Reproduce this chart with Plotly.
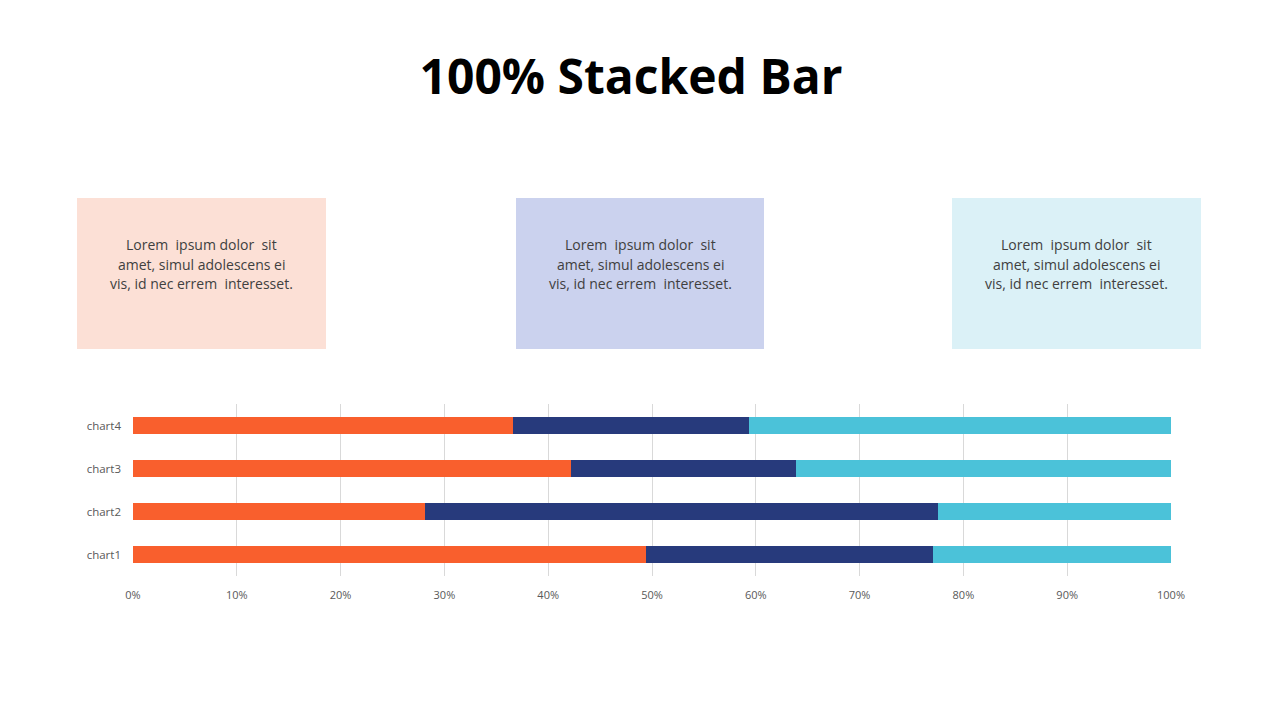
import plotly.graph_objects as go

# data (percent of each row)
categories = ["chart1", "chart2", "chart3", "chart4"]
series_a = [49.4, 28.1, 42.2, 36.6]
series_b = [27.7, 49.5, 21.7, 22.7]
series_c = [22.9, 22.4, 36.1, 40.7]

tick_vals = [0, 10, 20, 30, 40, 50, 60, 70, 80, 90, 100]
tick_text = [f"{v}%" for v in tick_vals]

box_lines = [
    "Lorem  ipsum dolor  sit",
    "amet, simul adolescens ei",
    "vis, id nec errem  interesset.",
]
box_colors = ["#FCE0D6", "#CBD2EE", "#DBF1F7"]
box_x = [(77, 326), (516, 764), (952, 1201)]

series = [
    ("Series 1", series_a, "#F95F2D"),
    ("Series 2", series_b, "#273A7C"),
    ("Series 3", series_c, "#4BC2D9"),
]

fig = go.Figure()
for name, vals, color in series:
    fig.add_trace(
        go.Bar(
            y=categories,
            x=vals,
            name=name,
            orientation="h",
            marker_color=color,
            marker_line_width=0,
            width=0.4,
        )
    )

W, H = 1280, 720
# plot area in screen pixels (page body adds an 8px offset)
px0, px1, py0, py1 = 133, 1171, 404, 576


def to_px(x):
    return (x - px0) / (px1 - px0)


def to_py(y):
    return (py1 - y) / (py1 - py0)


# text panels above the chart
for (x0, x1), color in zip(box_x, box_colors):
    fig.add_shape(
        type="rect",
        xref="paper", yref="paper",
        x0=to_px(x0), x1=to_px(x1),
        y0=to_py(349), y1=to_py(198),
        fillcolor=color,
        line_width=0,
        layer="below",
    )
    for line, ly in zip(box_lines, [245, 264, 283]):
        fig.add_annotation(
            xref="paper", yref="paper",
            x=to_px((x0 + x1) / 2),
            y=to_py(ly),
            xanchor="center",
            yanchor="middle",
            text=line,
            showarrow=False,
            font=dict(family="Open Sans", size=14, color="#404040"),
        )

fig.update_layout(
    width=W,
    height=H,
    barmode="stack",
    showlegend=False,
    paper_bgcolor="white",
    plot_bgcolor="white",
    margin=dict(l=px0 - 8, r=W - px1 + 8, t=py0 - 8, b=H - py1 + 8),
    title=dict(
        text="<b>100% Stacked Bar</b>",
        x=623 / W,
        xanchor="center",
        y=1 - 69 / H,
        yanchor="middle",
        font=dict(family="Open Sans", size=48, color="black"),
    ),
    font=dict(family="Open Sans", size=11, color="#595959"),
)

fig.update_xaxes(
    range=[0, 100],
    tickvals=tick_vals,
    ticktext=tick_text,
    showgrid=True,
    gridcolor="#D9D9D9",
    gridwidth=1,
    zeroline=False,
    showline=False,
    ticks="",
    ticklabelstandoff=11,
    tickfont=dict(size=11, color="#595959"),
)
fig.update_yaxes(
    showgrid=False,
    showline=False,
    ticks="",
    ticklabelstandoff=11,
    tickfont=dict(size=11.5, color="#595959"),
)

fig.write_html("out.html")
